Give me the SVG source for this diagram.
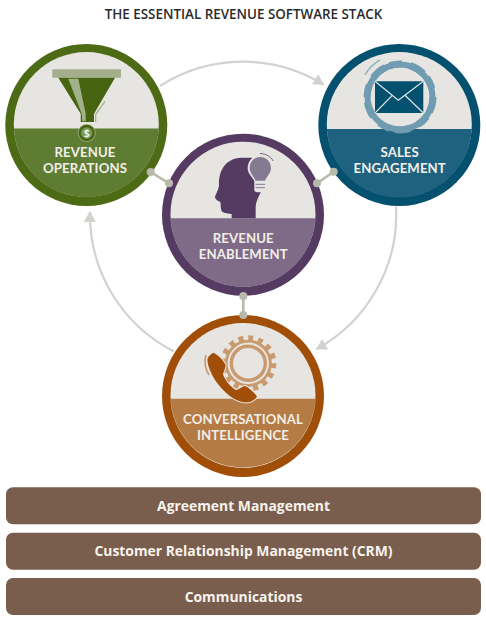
<svg xmlns="http://www.w3.org/2000/svg" width="486" height="620" viewBox="0 0 486 620">
<style>
.title{font:600 13.400px "Open Sans",sans-serif;fill:#2b2b2b;text-anchor:middle}
.lab{font:700 13.200px Lato,sans-serif;fill:#f1efe8;text-anchor:middle;letter-spacing:.1px}
.bar{fill:#7a5e4d}
.bt{font:700 13.900px "Open Sans",sans-serif;fill:#f6f3ee;text-anchor:middle}
.light{fill:#e6e5e1}
.arc{fill:none;stroke:#d2d2ce;stroke-width:2.200}
.link{stroke:#b9b9ab;stroke-width:2.600}
.dot{fill:#b9b9ab}
</style>
<defs>
<marker id="ah" markerUnits="userSpaceOnUse" markerWidth="14" markerHeight="14" refX="10" refY="6" orient="auto"><path d="M0,0L11,6L0,12Z" fill="#d2d2ce"/></marker>
</defs>
<text class="title" x="243.500" y="19">THE ESSENTIAL REVENUE SOFTWARE STACK</text>
<g id="revenue-operations">
<circle cx="86.300" cy="125" r="81" fill="#4c6b14"/>
<circle class="light" cx="86.300" cy="124.500" r="72.500"/>
<path d="M13.900,128.500A72.500,72.500 0 0 0 158.700,128.500Z" fill="#5f7c33"/>
<path d="M52.300,69.300H121V77.700H52.300Z" fill="#a3af8a"/>
<path d="M58.300,77.700H115L94,113.700V122H80.700V113.700Z" fill="#46640f"/>
<path d="M68.300,78.700H78.300L85.700,113.700V121.300H82.300L81.700,113.700Z" fill="#a3b18a"/>
<path d="M105,101.300L95.700,114.300V122" fill="none" stroke="#a3af8a" stroke-width="1.200"/>
<circle cx="86.700" cy="133" r="9" fill="#a3b18a"/>
<circle cx="86.700" cy="133" r="8.200" fill="#46640f"/>
<circle cx="86.700" cy="133" r="5.800" fill="#7b9652"/>
<text x="86.700" y="137" font-family="Open Sans,sans-serif" font-weight="700" font-size="10.500" fill="#f1efe8" text-anchor="middle">$</text>
<text class="lab" x="85" y="157">REVENUE</text>
<text class="lab" x="85" y="173">OPERATIONS</text>
</g>
<g id="sales-engagement">
<circle cx="399.300" cy="125" r="81" fill="#04506f"/>
<circle class="light" cx="399.300" cy="124.500" r="72.500"/>
<path d="M326.900,129A72.500,72.500 0 0 0 471.700,129Z" fill="#1f627f"/>
<circle cx="400" cy="97" r="32.500" fill="none" stroke="#6f9cb0" stroke-width="6"/>
<circle cx="400" cy="97" r="33" fill="none" stroke="#6f9cb0" stroke-width="7" pathLength="120" stroke-dasharray="9 3 7 5"/>
<path d="M365,74.700A42,42 0 0 1 380,59.800" fill="none" stroke="#8eb0bf" stroke-width="1.500"/>
<path d="M375,81.300H423.300V113H375Z" fill="#04506f"/>
<path d="M375,81.300L398.300,100.300L423.300,81.300M375,113L392.300,95.300M423.300,113L405,95.300" fill="none" stroke="#dfe6e6" stroke-width="1.200"/>
<text class="lab" x="399.700" y="157">SALES</text>
<text class="lab" x="399.700" y="173">ENGAGEMENT</text>
</g>
<g id="revenue-enablement">
<circle cx="243" cy="214.700" r="81" fill="#553a62"/>
<circle class="light" cx="243" cy="214.200" r="72.500"/>
<path d="M170.600,218.300A72.500,72.500 0 0 0 315.400,218.300Z" fill="#7f6a87"/>
<g transform="translate(205,145) scale(.3333)">
<path d="M80,220L80,207C65,205 55,205 50,198C46,190 48,178 46,170C38,168 30,162 30,155C32,148 40,135 42,122C40,85 55,40 110,38L140,38L175,60L170,135C165,150 152,165 152,190L152,220Z" fill="#553a62"/>
<path d="M166,30C190,30 205,50 205,70C205,85 192,95 184,108V135C184,140 178,142 172,142H160C154,142 148,140 148,135V108C140,95 128,85 128,70C128,48 145,30 166,30Z" fill="#e6e5e1"/>
<path d="M166,36C186,36 198,52 198,70C198,84 186,94 180,107H152C146,94 134,84 134,70C134,52 146,36 166,36Z" fill="#857a92"/>
<path d="M152,118H180M152,128H180" stroke="#857a92" stroke-width="3"/>
<path d="M165,25C185,27 198,36 205,48" fill="none" stroke="#6e5f7c" stroke-width="3"/>
</g>
<text class="lab" x="243.300" y="243">REVENUE</text>
<text class="lab" x="243.300" y="259">ENABLEMENT</text>
</g>
<g id="conversational-intelligence">
<circle cx="243" cy="396" r="81" fill="#a14f08"/>
<circle class="light" cx="243" cy="395.500" r="72.500"/>
<path d="M170.600,398.800A72.500,72.500 0 0 0 315.400,398.800Z" fill="#b57b45"/>
<circle cx="248.300" cy="363.300" r="23.500" fill="#c89a6e"/>
<circle cx="248.300" cy="363.300" r="25" fill="none" stroke="#c89a6e" stroke-width="6" pathLength="160" stroke-dasharray="5 5"/>
<circle cx="248.300" cy="363.300" r="19.700" fill="none" stroke="#e6e5e1" stroke-width="2"/>
<circle class="light" cx="248.300" cy="363.300" r="15.300"/>
<g transform="translate(195,325) scale(.3333)">
<path d="M33,90C26,110 32,135 42,150" fill="none" stroke="#c89a6e" stroke-width="5"/>
<path d="M55,83C70,90 85,105 92,120C92,130 85,140 84,148C90,165 105,185 122,195C130,195 140,185 150,183C165,190 180,205 186,215C180,225 170,230 160,232C120,235 85,200 60,165C45,140 35,115 38,100C42,92 48,86 55,83Z" fill="#a14f08" stroke="#e6e5e1" stroke-width="6" paint-order="stroke"/>
</g>
<text class="lab" x="243" y="424">CONVERSATIONAL</text>
<text class="lab" x="243" y="440">INTELLIGENCE</text>
</g>
<g id="agreement-management"><rect class="bar" x="6" y="487.300" width="475" height="37" rx="7"/><text class="bt" x="243.500" y="510.500">Agreement Management</text></g>
<g id="crm"><rect class="bar" x="6" y="532.700" width="475" height="37" rx="7"/><text class="bt" x="243.500" y="556">Customer Relationship Management (CRM)</text></g>
<g id="communications"><rect class="bar" x="6" y="578" width="475" height="37" rx="7"/><text class="bt" x="243.500" y="601.500">Communications</text></g>
<g id="connectors">
<path class="arc" marker-end="url(#ah)" d="M160,86A153.500,153.500 0 0 1 323.500,84.500"/>
<path class="arc" marker-end="url(#ah)" d="M396,206.500A153.500,153.500 0 0 1 316.500,349"/>
<path class="arc" marker-end="url(#ah)" d="M174,351.500A153.500,153.500 0 0 1 90,212"/>
<path class="link" d="M150.700,172L169,183.300M333.700,171.700L317,183.300M243.300,296V315"/>
<g class="dot"><circle cx="150.700" cy="172" r="4"/><circle cx="169" cy="183.300" r="4"/><circle cx="333.700" cy="171.700" r="4"/><circle cx="317" cy="183.300" r="4"/><circle cx="243.300" cy="296" r="4"/><circle cx="243.300" cy="315" r="4"/></g>
</g>
</svg>
